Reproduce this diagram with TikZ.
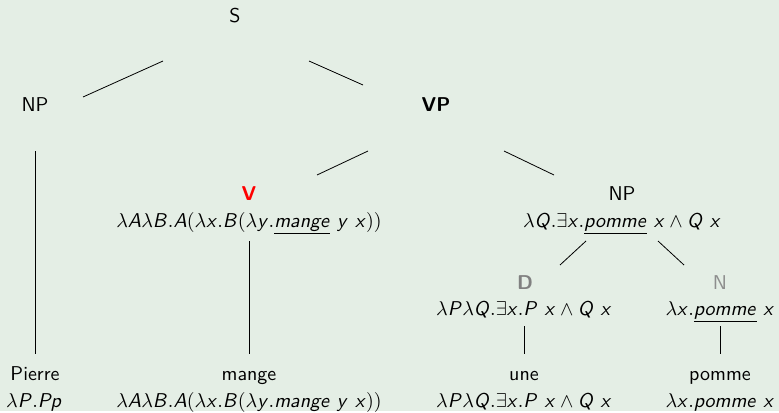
\documentclass[tikz,border=0pt]{standalone}
\usetikzlibrary{calc}

% sans italic letters in math, greek and symbols stay as they are
\DeclareSymbolFont{sfitalic}{OT1}{cmss}{m}{sl}
\makeatletter
\@tfor\sfl:=abcdefghijklmnopqrstuvwxyzABCDEFGHIJKLMNOPQRSTUVWXYZ\do{%
  \edef\next{\noexpand\DeclareMathSymbol{\sfl}{\noexpand\mathalpha}{sfitalic}{`\sfl}}\next}
\makeatother

\definecolor{slidebg}{RGB}{228,238,229}
\definecolor{catgray}{RGB}{128,128,128}

\tikzset{
  cat/.style={anchor=base, inner sep=0pt, font=\sffamily},
  sem/.style={anchor=base, inner sep=0pt},
}

\begin{document}
\begin{tikzpicture}[x=0.5pt, y=-0.5pt]
\fill[slidebg] (0,0) rectangle (779,411);

% categories
\node[cat] (s)   at (235,22)  {S};
\node[cat] (np)  at (35,111)  {NP};
\node[cat,font=\sffamily\bfseries] (vp) at (436,111) {VP};
\node[cat,font=\sffamily\bfseries,text=red] (v) at (249,200) {V};
\node[cat] (npo) at (622,200) {NP};
\node[cat,font=\sffamily\bfseries,text=catgray] (d) at (525,289) {D};
\node[cat,text=catgray!90] (n) at (720,289) {N};

% meanings under the inner nodes
\node[sem] (vsem)   at (249,227) {$\lambda A\lambda B.A(\lambda x.B(\lambda y.\underline{mange}\ y\ x))$};
\node[sem] (nposem) at (622,227) {$\lambda Q.\exists x.\underline{pomme}\ x\wedge Q\ x$};
\node[sem] (dsem)   at (524,315) {$\lambda P\lambda Q.\exists x.P\ x\wedge Q\ x$};
\node[sem] (nsem)   at (720,315) {$\lambda x.\underline{pomme}\ x$};

% words
\node[cat] (pierre) at (35,380)  {Pierre};
\node[cat] (mange)  at (249,380) {mange};
\node[cat] (une)    at (524,380) {une};
\node[cat] (pomme)  at (720,380) {pomme};
\node[sem] (pierresem) at (34,407)  {$\lambda P.P p$};
\node[sem] (mangesem)  at (249,407) {$\lambda A\lambda B.A(\lambda x.B(\lambda y.mange\ y\ x))$};
\node[sem] (unesem)    at (524,407) {$\lambda P\lambda Q.\exists x.P\ x\wedge Q\ x$};
\node[sem] (pommesem)  at (720,407) {$\lambda x.pomme\ x$};

% branches
\draw ($(s.base)+(-72,39)$) -- ($(np.base)+(48,-14)$);
\draw ($(s.base)+(74,39)$) -- ($(vp.base)+(-73,-26)$);
\draw ($(vp.base)+(-68,40)$) -- ($(v.base)+(68,-25)$);
\draw ($(vp.base)+(68,40)$) -- ($(npo.base)+(-68,-25)$);
\draw ($(nposem.base)+(-36,14)$) -- ($(d.base)+(35,-24)$);
\draw ($(nposem.base)+(36,14)$) -- ($(n.base)+(-36,-24)$);

% lexical edges
\draw ($(np.base)+(0,40)$) -- ($(pierre.base)+(0,-26)$);
\draw ($(vsem.base)+(0,14)$) -- ($(mange.base)+(0,-26)$);
\draw ($(dsem.base)+(0,11)$) -- ($(une.base)+(0,-26)$);
\draw ($(nsem.base)+(0,11)$) -- ($(pomme.base)+(0,-26)$);

\end{tikzpicture}
\end{document}
